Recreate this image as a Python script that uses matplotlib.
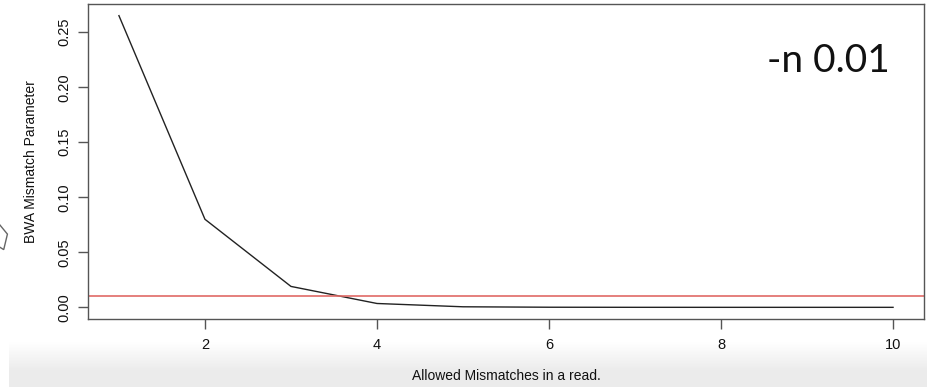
import numpy as np
import matplotlib
matplotlib.use("Agg")
import matplotlib.pyplot as plt
from matplotlib.patches import Polygon

# values
mismatches = [1, 2, 3, 4, 5, 6, 7, 8, 9, 10]
bwa_param = [0.265, 0.080, 0.019, 0.0035, 0.0005, 0.0001, 0.00002, 0.0, 0.0, 0.0]
threshold = 0.01
x_ticks = [2, 4, 6, 8, 10]
y_ticks = [0.00, 0.05, 0.10, 0.15, 0.20, 0.25]

plt.rcParams['font.family'] = ['Liberation Sans', 'DejaVu Sans']

fig = plt.figure(figsize=(9.28, 3.87), dpi=100)

# light grey screenshot shade along the bottom
bg = fig.add_axes([0.01, 0.0, 0.99, 0.115], zorder=-5)
t = np.linspace(0.0, 1.0, 60).reshape(-1, 1)
level = 1.0 - 0.075 * np.clip(t * 1.6, 0, 1)
grad = np.dstack([level, level, level])
bg.imshow(grad, aspect='auto', extent=[0, 1, 0, 1], origin='upper')
bg.axis('off')

ax = fig.add_axes([0.0948, 0.1757, 0.9009, 0.8140])
ax.plot(mismatches, bwa_param, color='#222222', linewidth=1.0)
ax.axhline(threshold, color='#e06a66', linewidth=1.2)

span = mismatches[-1] - mismatches[0]
ax.set_xlim(mismatches[0] - 0.04 * span, mismatches[-1] + 0.04 * span)
ymax = max(bwa_param)
ax.set_ylim(-0.04 * ymax, ymax * 1.04)

ax.set_xticks(x_ticks)
ax.set_xticklabels([str(v) for v in x_ticks])
ax.set_yticks(y_ticks)
ax.set_yticklabels(['%.2f' % v for v in y_ticks], rotation=90, va='center')

for s in ax.spines.values():
    s.set_color('#555555')
    s.set_linewidth(1.0)
ax.tick_params(colors='#555555', labelcolor='#111111', labelsize=10.5,
               length=7, width=1.0, pad=7)
ax.tick_params(axis='y', pad=5)

ax.set_xlabel('Allowed Mismatches in a read.', fontsize=10, color='#111111',
              labelpad=12)
ax.set_ylabel('BWA Mismatch Parameter', fontsize=10, color='#111111',
              labelpad=14)

fig.text(0.8265, 0.814, '-n 0.01', fontsize=28, family=['Lato', 'DejaVu Sans'],
         ha='left', va='baseline', color='#111111')

# bit of an icon cut off at the left edge
icon = Polygon([[-0.004, 0.43], [0.008, 0.395], [0.004, 0.355], [-0.006, 0.37]],
               closed=True, fill=False, edgecolor='#666666', linewidth=1.0,
               transform=fig.transFigure)
fig.add_artist(icon)

fig.savefig('out.png', dpi=100)
